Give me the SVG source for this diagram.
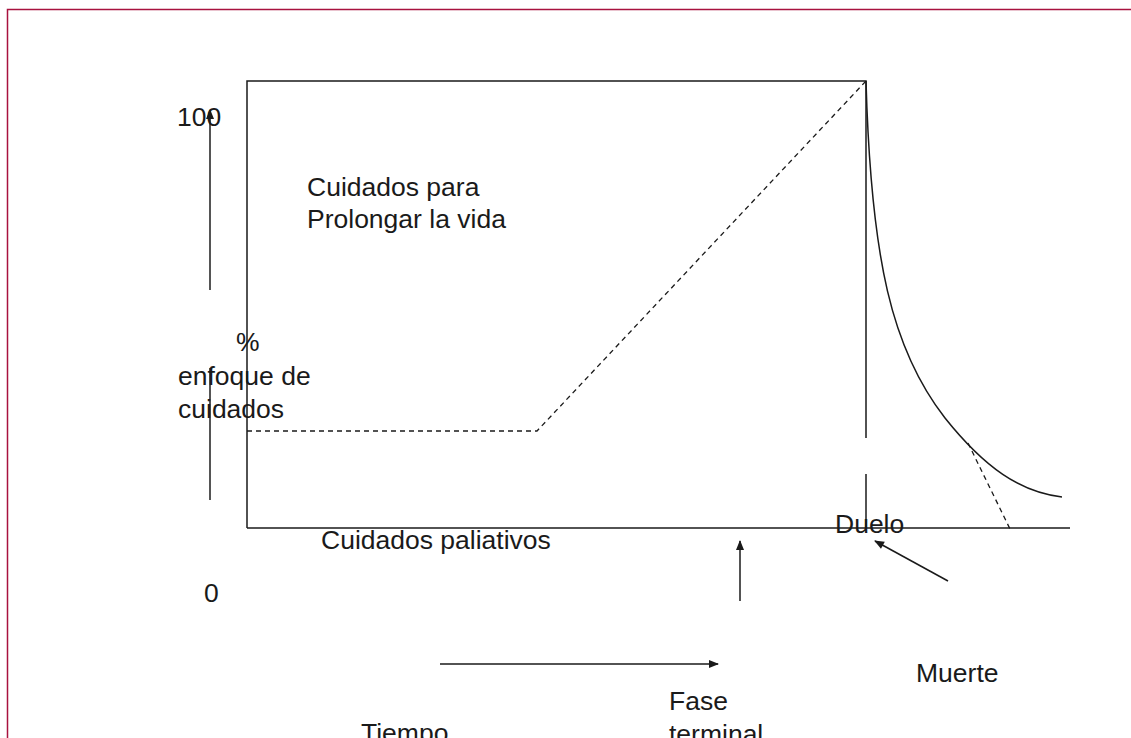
<svg xmlns="http://www.w3.org/2000/svg" width="1131" height="738" viewBox="0 0 1131 738">
<style>
text{font-family:"Liberation Sans",Arial,sans-serif;font-size:26.5px;fill:#1a1a1a}
.ln{stroke:#1a1a1a;stroke-width:1.5;fill:none}
.ds{stroke:#1a1a1a;stroke-width:1.3;fill:none;stroke-dasharray:5,4}
.ax{stroke:#555;stroke-width:2;fill:none}
</style>
<defs>
<marker id="ah2" viewBox="0 0 10 10" refX="9" refY="5" markerWidth="12" markerHeight="10" markerUnits="userSpaceOnUse" orient="auto">
<path d="M0,1 L10,5 L0,9 z" fill="#1a1a1a"/>
</marker>
</defs>
<rect width="1131" height="738" fill="#fff"/>
<path d="M7.5,760 V9.5 H1140" fill="none" stroke="#a8123f" stroke-width="1.5"/>
<g id="chart">
<path class="ln" d="M247,528 V81 H866 V438"/>
<path class="ln" d="M866,474 V528"/>
<path class="ln" d="M247,528 H1070"/>
<path class="ds" d="M247,431 H537 L866,81"/>
<path class="ln" d="M866,81 C871,260 892,350 945,418 C985,468 1020,492 1062,497"/>
<path class="ds" d="M968,443 L1011,531"/>
</g>
<g id="connectors">
<line class="ax" x1="210" y1="290" x2="210" y2="110" marker-end="url(#ah2)"/>
<line class="ax" x1="210" y1="500" x2="210" y2="368"/>
<line class="ln" x1="740" y1="601" x2="740" y2="541" marker-end="url(#ah2)"/>
<line class="ln" x1="440" y1="664" x2="718" y2="664" marker-end="url(#ah2)"/>
<line class="ln" x1="948" y1="581" x2="875" y2="541" marker-end="url(#ah2)"/>
</g>
<g id="labels">
<text x="177" y="126">100</text>
<text x="307" y="196">Cuidados para</text>
<text x="307" y="228">Prolongar la vida</text>
<text x="236" y="351">%</text>
<text x="178" y="385">enfoque de</text>
<text x="178" y="418">cuidados</text>
<text x="321" y="549">Cuidados paliativos</text>
<text x="204" y="602">0</text>
<text x="835" y="533">Duelo</text>
<text x="916" y="682">Muerte</text>
<text x="669" y="710">Fase</text>
<text x="669" y="743">terminal</text>
<text x="361" y="742">Tiempo</text>
</g>
</svg>
